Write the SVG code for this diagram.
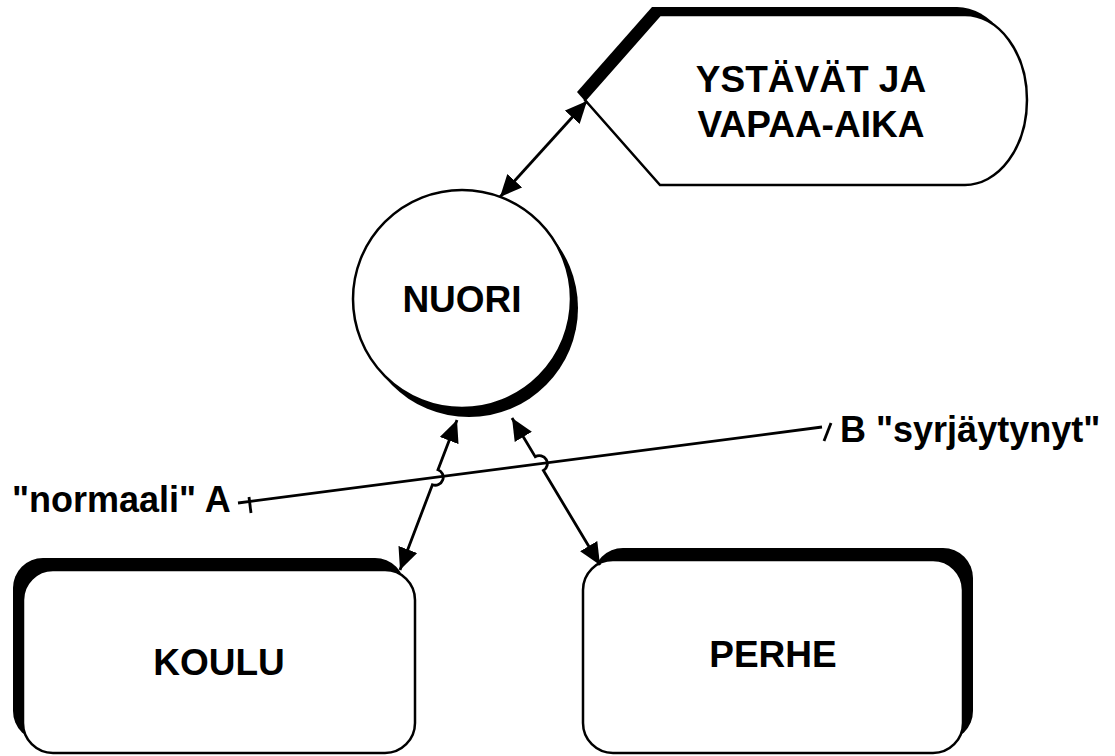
<svg xmlns="http://www.w3.org/2000/svg" width="1115" height="756" viewBox="0 0 1115 756">
<style>
.shadow{fill:#000;stroke:none}
.shape{fill:#fff;stroke:#000;stroke-width:2.5}
.lbl{font-family:"Liberation Sans",Arial,sans-serif;font-weight:bold;font-size:37px;fill:#000;text-anchor:middle}
.side{font-family:"Liberation Sans",Arial,sans-serif;font-weight:bold;font-size:36px;fill:#000}
.conn{fill:none;stroke:#000;stroke-width:2.8}
</style>
<defs>
<marker id="ah" viewBox="0 0 22 20" refX="22" refY="10" markerWidth="22" markerHeight="20" markerUnits="userSpaceOnUse" orient="auto-start-reverse">
<path d="M0,0 L22,10 L0,20 Z" fill="#000"/>
</marker>
</defs>
<rect width="1115" height="756" fill="#fff"/>
<g id="ystavat">
<path class="shadow" transform="translate(-8,-8)" d="M585,100 L660,15 L965,15 A62 85 0 0 1 965,185 L660,185 Z"/>
<path class="shape" d="M585,100 L660,15 L965,15 A62 85 0 0 1 965,185 L660,185 Z"/>
<text class="lbl" x="811" y="92">YSTÄVÄT JA</text>
<text class="lbl" x="811" y="137">VAPAA-AIKA</text>
</g>
<g id="nuori">
<circle class="shadow" cx="469" cy="308" r="109"/>
<circle class="shape" cx="462" cy="299" r="109"/>
<text class="lbl" x="462" y="312">NUORI</text>
</g>
<g id="koulu">
<rect class="shadow" x="13" y="558" width="392" height="183" rx="30"/>
<rect class="shape" x="23" y="570" width="392" height="183" rx="30"/>
<text class="lbl" x="219" y="675">KOULU</text>
</g>
<g id="perhe">
<rect class="shadow" x="593" y="548" width="380" height="193" rx="30"/>
<rect class="shape" x="583" y="560" width="380" height="193" rx="30"/>
<text class="lbl" x="773" y="667">PERHE</text>
</g>
<g id="scale">
<text class="side" x="12" y="512">"normaali" A</text>
<text class="side" x="840" y="442">B "syrjäytynyt"</text>
</g>
<g id="connectors">
<path class="conn" d="M500,197 L587,101" marker-start="url(#ah)" marker-end="url(#ah)"/>
<path class="conn" d="M457,420 L438,469.7 A8 8 0 0 1 432.4,484.7 L400,570" marker-start="url(#ah)" marker-end="url(#ah)"/>
<path class="conn" d="M512,418 L535.2,456.7 A8 8 0 0 1 543.4,470.5 L600,565" marker-start="url(#ah)" marker-end="url(#ah)"/>
<path class="conn" d="M238,503 L822,427"/>
<path class="conn" d="M249,497 L251,513"/>
<path class="conn" d="M824,441 L831,423"/>
</g>
</svg>
